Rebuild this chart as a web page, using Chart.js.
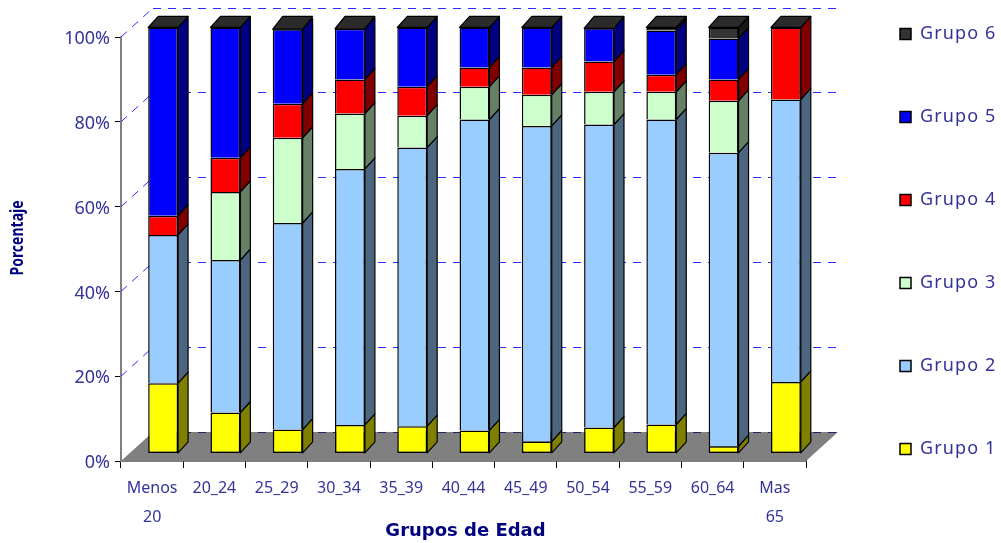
<!DOCTYPE html>
<html><head><meta charset="utf-8">
<style>html,body{margin:0;padding:0;background:#fff}canvas{display:block}</style>
<script src="https://cdn.jsdelivr.net/npm/chart.js@4"></script></head>
<body><canvas id="c" width="1001" height="543"></canvas>
<script>
const categories=[['Menos','20'],'20_24','25_29','30_34','35_39','40_44','45_49','50_54','55_59','60_64',['Mas','65']];
const yTicks=[0,20,40,60,80,100];
const grupo1=[16.5,9.6,5.6,6.7,6.4,5.4,2.8,6.1,6.8,1.7,16.8];
const grupo2=[34.8,35.8,48.5,60.1,65.4,73.0,74.1,71.1,71.6,68.9,66.3];
const grupo3=[0,16.0,20.0,13.0,7.5,7.7,7.3,7.7,6.5,12.2,0];
const grupo4=[4.5,8.0,8.0,8.0,6.8,4.5,6.4,7.1,4.0,5.0,16.9];
const grupo5=[44.2,30.6,17.5,11.9,13.9,9.4,9.4,7.8,10.4,9.6,0];
const grupo6=[0,0,0,0,0,0,0,0,0.7,2.6,0];
const names=['Grupo 1','Grupo 2','Grupo 3','Grupo 4','Grupo 5','Grupo 6'];
const fronts=['#FFFF00','#99CCFF','#CCFFCC','#FF0000','#0000FF','#333333'];
const sides=['#808000','#4D6680','#668066','#800000','#000080','#1A1A1A'];
const series=[grupo1,grupo2,grupo3,grupo4,grupo5,grupo6];
const FONT='"Noto Sans"';
const TEXT='#333399';
const BAR_DX=11,BAR_DY=-9.7,BAR_SY=1.0047,SIDE_DX=10,SIDE_DY=-11,BACK_DX=32,BACK_DY=-29;

const scene={id:'scene',
 afterLayout(ch){const l=ch.legend;l.left=835;l.right=1001;l.top=-40;l.bottom=3000;
  if(!l._spaced){l._spaced=true;const d=l.draw.bind(l);
   l.draw=function(){const c=this.ctx;c.save();c.letterSpacing='1.1px';d();c.restore();};}
  const y=ch.scales.y;
  if(!y._shifted){y._shifted=true;const o=y.drawTitle.bind(y);
   y.drawTitle=function(){const c=this.ctx;c.save();c.translate(19,-11);c.scale(1.25,1);c.translate(-17,0);o();c.restore();};}
  const x=ch.scales.x;
  if(!x._shifted){x._shifted=true;const o=x.drawTitle.bind(x);
   x.drawTitle=function(){const c=this.ctx;c.save();c.translate(2,0);o();c.restore();};}
 },
 beforeDatasetsDraw(ch){
  const {ctx,chartArea:a,scales:{y}}=ch;
  ctx.save();
  ctx.fillStyle='#808080';ctx.beginPath();
  ctx.moveTo(a.left,a.bottom);ctx.lineTo(a.right,a.bottom);
  ctx.lineTo(a.right+BACK_DX,a.bottom+BACK_DY);ctx.lineTo(a.left+BACK_DX,a.bottom+BACK_DY);ctx.closePath();ctx.fill();
  ctx.lineWidth=1;ctx.setLineDash([8,7]);
  yTicks.forEach(v=>{const p=y.getPixelForValue(v);const q=Math.floor(p+BACK_DY)+.5;
   ctx.strokeStyle=v===0?'#222266':'#2A2AFF';
   ctx.beginPath();ctx.moveTo(a.left+BACK_DX,q);ctx.lineTo(a.right+BACK_DX,q);ctx.stroke();
   if(v>0){ctx.strokeStyle='#2A2AFF';ctx.beginPath();ctx.moveTo(a.left,p);ctx.lineTo(a.left+BACK_DX,p+BACK_DY);ctx.stroke();}
  });
  ctx.restore();
  ctx.save();ctx.transform(1,0,0,BAR_SY,BAR_DX,BAR_DY);
 },
 afterDatasetsDraw(ch){
  const {ctx}=ch;
  ctx.lineWidth=1.2;ctx.strokeStyle='#000';ctx.lineJoin='round';
  ch.data.datasets.forEach((d,i)=>{
   ch.getDatasetMeta(i).data.forEach((b)=>{
    const r=b.getProps(['x','y','base','width'],true);
    const xr=r.x+r.width/2;
    if(Math.abs(r.base-r.y)<0.01)return;
    ctx.fillStyle=sides[i];ctx.beginPath();
    ctx.moveTo(xr,r.y);ctx.lineTo(xr+SIDE_DX,r.y+SIDE_DY);ctx.lineTo(xr+SIDE_DX,r.base+SIDE_DY);ctx.lineTo(xr,r.base);ctx.closePath();ctx.fill();ctx.stroke();
   });
  });
  const top=ch.scales.y.getPixelForValue(100);
  ch.getDatasetMeta(0).data.forEach((b,k)=>{
   const r=b.getProps(['x','width'],true);const xl=r.x-r.width/2,xr=r.x+r.width/2;
   const tot=series.reduce((s,a)=>s+a[k],0);const t=ch.scales.y.getPixelForValue(tot);
   ctx.fillStyle='#2B2B2B';ctx.beginPath();
   ctx.moveTo(xl,t);ctx.lineTo(xl+SIDE_DX,top+SIDE_DY);ctx.lineTo(xr+SIDE_DX,top+SIDE_DY);ctx.lineTo(xr,t);ctx.closePath();ctx.fill();ctx.stroke();
  });
  ctx.restore();
 }
};

new Chart(document.getElementById('c'),{
 type:'bar',
 data:{labels:categories,datasets:series.map((v,i)=>({label:names[i],data:v,backgroundColor:fronts[i],borderColor:'#000',borderWidth:1.5,borderSkipped:i===0?false:'bottom',inflateAmount:0,clip:false,stack:'s',barPercentage:.96,categoryPercentage:.5}))},
 options:{responsive:false,animation:false,
  layout:{padding:{left:0,top:37,right:195,bottom:0}},
  plugins:{tooltip:{enabled:false},
   legend:{position:'chartArea',align:'start',reverse:true,
    labels:{boxWidth:11,boxHeight:11,padding:65,color:TEXT,font:{family:FONT,size:18},
      generateLabels(ch){return ch.data.datasets.map((d,i)=>({text:d.label,fillStyle:fronts[i],strokeStyle:'#000',lineWidth:1.5,datasetIndex:i,fontColor:TEXT}));}}}},
  scales:{
   x:{stacked:true,offset:true,afterFit(s){s.height=82;},
    grid:{drawOnChartArea:false,drawTicks:true,tickLength:7,color:'#000',offset:true},
    border:{color:'#000',width:1.5},
    ticks:{color:TEXT,font:{family:FONT,size:16,lineHeight:1.8},maxRotation:0,autoSkip:false,padding:6},
    title:{display:true,text:'Grupos de Edad',color:'#000080',font:{family:'"DejaVu Sans"',size:18,weight:'bold'},padding:{top:0,bottom:1}}},
   y:{stacked:true,min:0,max:100,afterFit(s){s.width=121;},
    grid:{drawOnChartArea:false,drawTicks:true,tickLength:6,color:'#000'},
    border:{color:'#808080',width:2},
    ticks:{color:TEXT,stepSize:20,font:{family:FONT,size:18},padding:5,labelOffset:2,callback:v=>v+'%'},
    title:{display:true,text:'Porcentaje',color:'#000080',font:{family:FONT,size:14,weight:'bold'},padding:{top:8,bottom:8}}}
  }},
 plugins:[scene]
});
</script></body></html>
